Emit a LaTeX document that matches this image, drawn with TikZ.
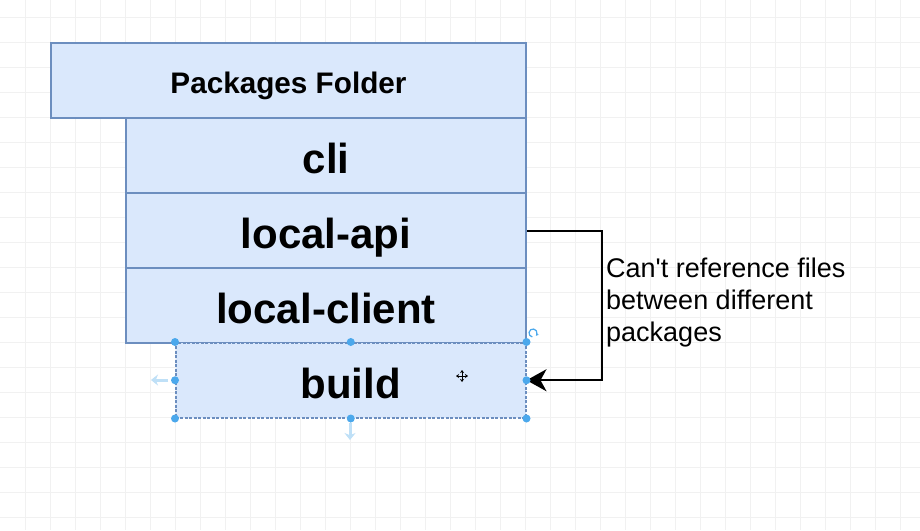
\documentclass[tikz,border=0pt]{standalone}
\usepackage{fontspec}
\setmainfont{Liberation Sans}
\newfontfamily\notefont{Liberation Sans}[Ligatures=NoCommon]
\usetikzlibrary{arrows.meta}
\definecolor{boxfill}{HTML}{DAE8FC}
\definecolor{boxline}{HTML}{6C8EBF}
\definecolor{gridc}{HTML}{F1F1F1}
\definecolor{handle}{HTML}{4BA8EC}
\definecolor{fadeh}{HTML}{BFE0F7}
\begin{document}
\begin{tikzpicture}[x=1pt,y=-1pt,
  pkg/.style={draw=boxline, fill=boxfill, line width=2pt, anchor=north west,
    inner sep=0pt, minimum height=75pt, text height=36.4pt, text depth=0pt,
    font=\bfseries\fontsize{42}{42}\selectfont},
  titlebox/.style={pkg, text height=25.6pt, font=\bfseries\fontsize{29.7}{30}\selectfont},
  selbox/.style={pkg, line width=1.5pt, dash pattern=on 3pt off 1.5pt},
  notetext/.style={anchor=north west, inner sep=0pt, align=left,
    font=\notefont\fontsize{27}{32}\selectfont},
  link/.style={line width=2pt, line join=miter,
    -{Stealth[length=20pt,width=22pt,inset=6pt]}},
  hdot/.style={fill=handle},
  fadearrow/.style={draw=fadeh, line width=3pt, -{Stealth[length=7pt,width=11pt]}},
  gridline/.style={draw=gridc, line width=1pt}]
\useasboundingbox (0,0) rectangle (920,530);
\fill[white] (0,0) rectangle (920,530);
\foreach \x in {25,50,...,900} \draw[gridline] (\x,0) -- (\x,530);
\foreach \y in {17,42,...,517} \draw[gridline] (0,\y) -- (920,\y);

\node[titlebox, minimum width=475pt] (folder) at (50,42) {Packages Folder};
\node[pkg, minimum width=400pt] (cli) at (125,117) {cli};
\node[pkg, minimum width=400pt] (api) at (125,192) {local-api};
\node[pkg, minimum width=400pt] (client) at (125,267) {local-client};
\node[selbox, minimum width=350pt] (build) at (175,342) {build};

\node[notetext] (note) at (606,257.5) {Can't reference files\\between different\\packages};

\coordinate (bend) at ([xshift=75pt]api.east);
\draw[link] (api.east) -- (bend) |- (build.east);

% selection handles
\foreach \a in {north west,north,north east,west,east,south west,south,south east}
  \fill[hdot] (build.\a) circle (4pt);
\coordinate (leftA) at (168,380);
\coordinate (leftB) at (151,380);
\draw[fadearrow] (leftA) -- (leftB);
\coordinate (downA) at (350,423);
\coordinate (downB) at (350,440);
\draw[fadearrow] (downA) -- (downB);
\coordinate (rot) at (533,333);
\draw[handle, line width=1.2pt, -{Stealth[length=2.5pt,width=3.5pt]}] ([shift={(100:4)}]rot) arc[start angle=100, end angle=400, radius=4];
\coordinate (mv) at (462,376);
\draw[line width=1pt, {Stealth[length=3pt,width=4pt]}-{Stealth[length=3pt,width=4pt]}] ([xshift=-6pt]mv) -- ([xshift=6pt]mv);
\draw[line width=1pt, {Stealth[length=3pt,width=4pt]}-{Stealth[length=3pt,width=4pt]}] ([yshift=-6pt]mv) -- ([yshift=6pt]mv);
\end{tikzpicture}
\end{document}
